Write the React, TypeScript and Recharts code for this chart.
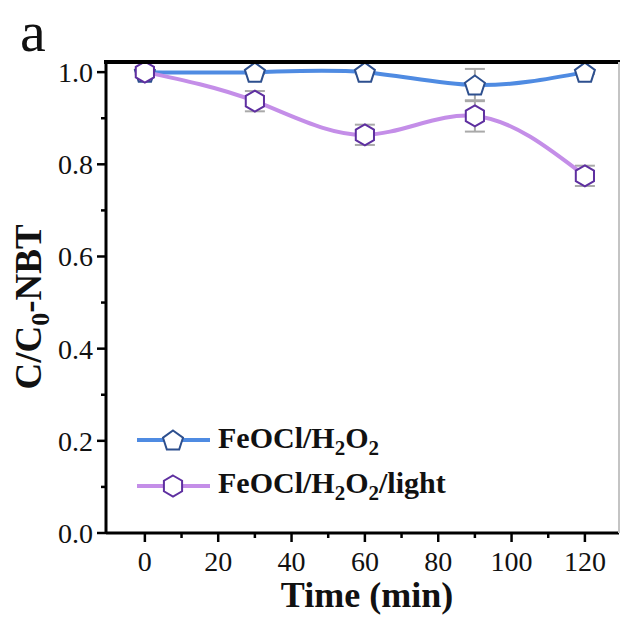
import React from 'react';
import { LineChart, Line, XAxis, YAxis, ErrorBar, Legend, Label } from 'recharts';

const times = [0, 30, 60, 90, 120];
const darkRatio = [1.0, 1.0, 1.0, 0.972, 1.0];
const darkErr = [0.004, 0.004, 0.004, 0.035, 0.004];
const lightRatio = [1.0, 0.937, 0.864, 0.905, 0.775];
const lightErr = [0.005, 0.022, 0.022, 0.034, 0.022];

const xTicks = [0, 10, 20, 30, 40, 50, 60, 70, 80, 90, 100, 110, 120];
const yTicks = [0, 0.1, 0.2, 0.3, 0.4, 0.5, 0.6, 0.7, 0.8, 0.9, 1.0];
const xRange = [-10.6, 129.3];
const yRange = [0, 1.022];

const SERIF = '"Liberation Serif", "Times New Roman", serif';
const BLUE_LINE = '#4f8be2';
const BLUE_EDGE = '#2d4f8e';
const PURPLE_LINE = '#c48ee8';
const PURPLE_EDGE = '#5e2fa0';
const ERR = '#a9a9a9';

// plot frame box (pixels)
const PLOT_LEFT = 106;
const PLOT_TOP = 62;
const PLOT_RIGHT = 619;
const PLOT_BOTTOM = 533;

const data = times.map((t, i) => ({
  t,
  dark: darkRatio[i],
  darkErr: darkErr[i],
  light: lightRatio[i],
  lightErr: lightErr[i],
}));

const polygon = (cx: number, cy: number, r: number, n: number) =>
  Array.from({ length: n }, (_, i) => {
    const a = ((-90 + (360 / n) * i) * Math.PI) / 180;
    return `${cx + r * Math.cos(a)},${cy + r * Math.sin(a)}`;
  }).join(' ');

const PentagonDot = (props: any) => {
  const { cx, cy, index } = props;
  return (
    <polygon key={`p-${index}`} points={polygon(cx, cy + 1, 10.5, 5)} fill="#fff" stroke={BLUE_EDGE} strokeWidth={2} />
  );
};

const HexagonDot = (props: any) => {
  const { cx, cy, index } = props;
  return (
    <polygon key={`h-${index}`} points={polygon(cx, cy, 10.5, 6)} fill="#fff" stroke={PURPLE_EDGE} strokeWidth={2} />
  );
};

const XTick = (props: any) => {
  const { x, y, payload } = props;
  const v = payload.value;
  const major = v % 20 === 0;
  return (
    <g>
      <line x1={x} x2={x} y1={y} y2={y + (major ? 9 : 5)} stroke="#000" strokeWidth={2.5} />
      {major && (
        <text x={x} y={y + 38} textAnchor="middle" fontSize={28} fontFamily={SERIF} fill="#111">
          {v}
        </text>
      )}
    </g>
  );
};

const YTick = (props: any) => {
  const { x, y, payload } = props;
  const v = payload.value;
  const major = Math.round(v * 10) % 2 === 0;
  return (
    <g>
      <line x1={x - (major ? 9 : 5)} x2={x} y1={y} y2={y} stroke="#000" strokeWidth={2.5} />
      {major && (
        <text x={x - 13} y={y + 10} textAnchor="end" fontSize={28} fontFamily={SERIF} fill="#111">
          {v.toFixed(1)}
        </text>
      )}
    </g>
  );
};

const LegendBox = () => (
  <svg width={340} height={95} style={{ display: 'block' }}>
    <line x1={7} x2={80} y1={25} y2={25} stroke={BLUE_LINE} strokeWidth={4} />
    <polygon points={polygon(43, 26, 10.5, 5)} fill="#fff" stroke={BLUE_EDGE} strokeWidth={2} />
    <text x={88} y={33} fontSize={30} fontWeight="bold" fontFamily={SERIF} fill="#111">
      FeOCl/H<tspan dy={7} fontSize={21}>2</tspan>
      <tspan dy={-7}>O</tspan>
      <tspan dy={7} fontSize={21}>2</tspan>
    </text>
    <line x1={7} x2={80} y1={71} y2={71} stroke={PURPLE_LINE} strokeWidth={4} />
    <polygon points={polygon(43, 71, 10.5, 6)} fill="#fff" stroke={PURPLE_EDGE} strokeWidth={2} />
    <text x={88} y={78} fontSize={30} fontWeight="bold" fontFamily={SERIF} fill="#111">
      FeOCl/H<tspan dy={7} fontSize={21}>2</tspan>
      <tspan dy={-7}>O</tspan>
      <tspan dy={7} fontSize={21}>2</tspan>
      <tspan dy={-7}>/light</tspan>
    </text>
  </svg>
);

const YTitle = () => (
  <g>
    <text x={20} y={51} fontSize={58} fontFamily={SERIF} fill="#111">
      a
    </text>
    <text
      x={41}
      y={307}
      transform="rotate(-90, 41, 307)"
      textAnchor="middle"
      fontSize={37}
      fontWeight="bold"
      fontFamily={SERIF}
      fill="#111"
    >
      C/C<tspan dy={8} fontSize={26}>0</tspan>
      <tspan dy={-8}>-NBT</tspan>
    </text>
  </g>
);

const XTitle = () => (
  <text x={367} y={607} textAnchor="middle" fontSize={36} fontWeight="bold" fontFamily={SERIF} fill="#111">
    Time (min)
  </text>
);

export default function App() {
  return (
    <div style={{ position: 'absolute', left: 0, top: 0, width: 620, height: 617, background: '#fff' }}>
      <LineChart
        width={620}
        height={617}
        data={data}
        margin={{ top: PLOT_TOP, right: 620 - PLOT_RIGHT, left: 0, bottom: 0 }}
      >
        <XAxis
          dataKey="t"
          type="number"
          domain={xRange}
          allowDataOverflow
          ticks={xTicks}
          interval={0}
          height={617 - PLOT_BOTTOM}
          tickSize={0}
          tickMargin={0}
          tickLine={false}
          tick={<XTick />}
          axisLine={{ stroke: '#000', strokeWidth: 3 }}
        >
          <Label content={<XTitle />} />
        </XAxis>
        <YAxis
          type="number"
          domain={yRange}
          allowDataOverflow
          ticks={yTicks}
          interval={0}
          width={PLOT_LEFT}
          tickSize={0}
          tickMargin={0}
          tickLine={false}
          tick={<YTick />}
          axisLine={{ stroke: '#000', strokeWidth: 3 }}
        >
          <Label content={<YTitle />} />
        </YAxis>
        <Legend
          content={<LegendBox />}
          layout="vertical"
          align="center"
          verticalAlign="middle"
          wrapperStyle={{ left: 130, top: 415, width: 340, height: 95 }}
        />
        <Line
          dataKey="dark"
          type="natural"
          stroke={BLUE_LINE}
          strokeWidth={4}
          dot={PentagonDot}
          activeDot={false}
          isAnimationActive={false}
        >
          <ErrorBar dataKey="darkErr" direction="y" width={10} stroke={ERR} strokeWidth={2} />
        </Line>
        <Line
          dataKey="light"
          type="natural"
          stroke={PURPLE_LINE}
          strokeWidth={4}
          dot={HexagonDot}
          activeDot={false}
          isAnimationActive={false}
        >
          <ErrorBar dataKey="lightErr" direction="y" width={10} stroke={ERR} strokeWidth={2} />
        </Line>
      </LineChart>
      {/* frame: thick top edge and thin right edge */}
      <div
        style={{
          position: 'absolute',
          left: PLOT_LEFT - 2,
          top: PLOT_TOP - 2,
          width: 620 - PLOT_LEFT + 2,
          height: 4,
          background: '#000',
          zIndex: 5,
          pointerEvents: 'none',
        }}
      />
      <div
        style={{
          position: 'absolute',
          left: PLOT_RIGHT - 1,
          top: PLOT_TOP,
          width: 2,
          height: PLOT_BOTTOM - PLOT_TOP,
          background: '#c4c4c4',
          zIndex: 5,
          pointerEvents: 'none',
        }}
      />
    </div>
  );
}
